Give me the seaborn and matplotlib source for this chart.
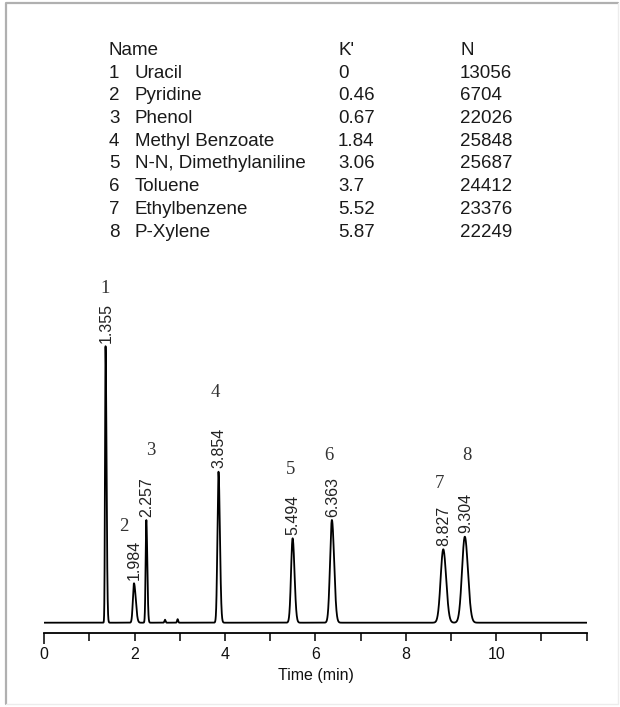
import numpy as np
import pandas as pd
import matplotlib
matplotlib.use('Agg')
import matplotlib.pyplot as plt
import seaborn as sns
from matplotlib.lines import Line2D
from matplotlib.ticker import MultipleLocator

# Peak table
names = ['Uracil', 'Pyridine', 'Phenol', 'Methyl Benzoate', 'N-N, Dimethylaniline',
         'Toluene', 'Ethylbenzene', 'P-Xylene']
k_prime = ['0', '0.46', '0.67', '1.84', '3.06', '3.7', '5.52', '5.87']
plates = ['13056', '6704', '22026', '25848', '25687', '24412', '23376', '22249']

# Peaks (height in detector units)
ret_times = [1.355, 1.984, 2.257, 3.854, 5.494, 6.363, 8.827, 9.304]
heights = [276.7, 39.4, 102.7, 151.0, 84.4, 102.7, 73.4, 86.0]
fwhm = [0.028, 0.057, 0.036, 0.056, 0.081, 0.096, 0.136, 0.147]
tailing = [1.8, 1.6, 1.4, 1.3, 1.2, 1.2, 1.1, 1.1]

# small impurity bumps
bump_times = [2.67, 2.95]
bump_heights = [3.0, 3.5]

# peak number labels (x in min, y in detector units)
num_x = [1.343, 1.77, 2.354, 3.777, 5.45, 6.30, 8.75, 9.345]
num_y = [333.7, 96.0, 172.0, 229.7, 152.7, 166.7, 138.7, 166.7]

t = np.linspace(0, 12, 8001)
signal = np.zeros_like(t)
for tr, h, w, tf in zip(ret_times, heights, fwhm, tailing):
    s = w / 2.3548
    sig = np.where(t < tr, s, s * tf)
    signal += h * np.exp(-0.5 * ((t - tr) / sig) ** 2)
for tr, h in zip(bump_times, bump_heights):
    signal += h * np.exp(-0.5 * ((t - tr) / 0.012) ** 2)

df = pd.DataFrame({'Time (min)': t, 'Signal': signal})

sns.set_theme(style='white')
plt.rcParams['font.family'] = ['Liberation Sans', 'DejaVu Sans']

fig = plt.figure(figsize=(6.2, 7.07), dpi=100)
ax = fig.add_axes([0.07145, 0.1051, 0.8748, 0.5201])

sns.lineplot(data=df, x='Time (min)', y='Signal', color='black', linewidth=1.3, ax=ax)

for tr, h in zip(ret_times, heights):
    ax.annotate(f'{tr:.3f}', xy=(tr, h), xytext=(0.5, 2.5), textcoords='offset points',
                rotation=90, ha='center', va='bottom', fontsize=11.5, color='#222222')

for i, (x, y) in enumerate(zip(num_x, num_y)):
    ax.text(x, y, str(i + 1), ha='center', va='center', fontsize=13.5,
            family='Liberation Serif', color='#333333')

ax.set_xlim(0, 12)
ax.set_ylim(-10, 357.7)
ax.set_yticks([])
ax.set_ylabel('')
ax.xaxis.set_major_locator(MultipleLocator(2))
ax.xaxis.set_minor_locator(MultipleLocator(1))
ax.set_xticks([0, 2, 4, 6, 8, 10])
ax.tick_params(axis='x', which='both', direction='out', length=5.5, width=1.1,
               color='black', labelsize=11.5, pad=5, bottom=True)
ax.xaxis.get_major_ticks()[0].tick1line.set_markersize(8)
ax.set_xlabel('Time (min)', fontsize=11.5, labelpad=4, color='#111111')
for lbl in ax.get_xticklabels():
    lbl.set_color('#111111')

for side in ['left', 'right', 'top']:
    ax.spines[side].set_visible(False)
ax.spines['bottom'].set_color('black')
ax.spines['bottom'].set_linewidth(1.3)

# table of compounds
W, H = 620, 707
row0, dy = 55, 22.7
fs = 13.5
fig.text(108 / W, 1 - row0 / H, 'Name', fontsize=fs, va='baseline', color='#1a1a1a')
fig.text(338 / W, 1 - row0 / H, "K'", fontsize=fs, va='baseline', color='#1a1a1a')
fig.text(460 / W, 1 - row0 / H, 'N', fontsize=fs, va='baseline', color='#1a1a1a')
for i in range(len(names)):
    yb = 1 - (row0 + dy * (i + 1)) / H
    fig.text(109 / W, yb, str(i + 1), fontsize=fs, va='baseline', color='#1a1a1a')
    fig.text(135 / W, yb, names[i], fontsize=fs, va='baseline', color='#1a1a1a')
    fig.text(338 / W, yb, k_prime[i], fontsize=fs, va='baseline', color='#1a1a1a')
    fig.text(460 / W, yb, plates[i], fontsize=fs, va='baseline', color='#1a1a1a')

# page frame: visible on left and top, very faint elsewhere
fx0, fx1 = 6 / W, 618 / W
fy0, fy1 = 1 - 704 / H, 1 - 3 / H
fig.lines.append(Line2D([fx0, fx0, fx1], [fy0, fy1, fy1], transform=fig.transFigure,
                        color='#b0b0b0', linewidth=1.6))
fig.lines.append(Line2D([fx0, fx1, fx1], [fy0, fy0, fy1], transform=fig.transFigure,
                        color='#ececec', linewidth=1.0))

fig.savefig('out.png', dpi=100)
